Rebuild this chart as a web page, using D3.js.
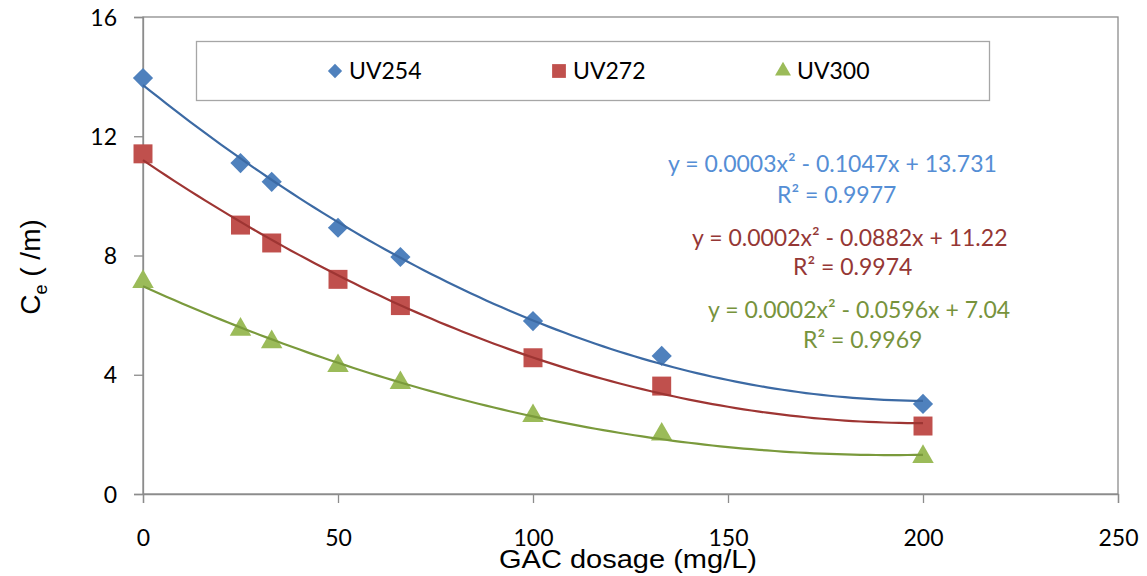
<!DOCTYPE html>
<html>
<head>
<meta charset="utf-8">
<title>GAC dosage vs Ce</title>
<script src="https://cdn.jsdelivr.net/npm/d3@7"></script>
<style>
  body { margin: 0; background: #fff; }
  svg { display: block; }
</style>
</head>
<body>
<div id="chart"></div>
<script>
// data
var dosage = [0, 25, 33, 50, 66, 100, 133, 200];
var uv254 = [13.95, 11.1, 10.47, 8.93, 7.95, 5.8, 4.63, 3.02];
var uv272 = [11.41, 9.02, 8.42, 7.2, 6.32, 4.57, 3.62, 2.28];
var uv300 = [7.12, 5.52, 5.1, 4.3, 3.73, 2.62, 2.0, 1.25];
var seriesNames = ["UV254", "UV272", "UV300"];
var equations = [
  ["y = 0.0003x\u00b2 - 0.1047x + 13.731", "R\u00b2 = 0.9977"],
  ["y = 0.0002x\u00b2 - 0.0882x + 11.22", "R\u00b2 = 0.9974"],
  ["y = 0.0002x\u00b2 - 0.0596x + 7.04", "R\u00b2 = 0.9969"]
];
var xTicks = [0, 50, 100, 150, 200, 250];
var yTicks = [0, 4, 8, 12, 16];

var W = 1147, H = 576;
var plot = {left: 143, right: 1118, top: 17, bottom: 494};

var markerColors = ["#4F81BD", "#C0504D", "#9BBB59"];
var lineColors = ["#3C6AA4", "#9E3533", "#7A9A3C"];
var textColors = ["#558ED5", "#953735", "#77933C"];
var symbols = [d3.symbolDiamond2, d3.symbolSquare, d3.symbolTriangle];
var calibri = "Lato, 'Open Sans', sans-serif";
var arial = "'Liberation Sans', Arial, sans-serif";

var svg = d3.select("#chart").append("svg")
  .attr("width", W).attr("height", H);

var x = d3.scaleLinear().domain([0, 250]).range([plot.left, plot.right]);
var y = d3.scaleLinear().domain([0, 16]).range([plot.bottom, plot.top]);

// plot frame
svg.append("rect")
  .attr("x", plot.left).attr("y", plot.top)
  .attr("width", plot.right - plot.left).attr("height", plot.bottom - plot.top)
  .attr("fill", "none").attr("stroke", "#8c8c8c").attr("stroke-width", 1.3);

var xAxis = svg.append("g")
  .attr("transform", "translate(0," + plot.bottom + ")")
  .call(d3.axisBottom(x).tickValues(xTicks).tickSize(9).tickPadding(27));
var yAxis = svg.append("g")
  .attr("transform", "translate(" + plot.left + ",0)")
  .call(d3.axisLeft(y).tickValues(yTicks).tickSize(9).tickPadding(17));
[xAxis, yAxis].forEach(function(a) {
  a.select(".domain").attr("stroke", "#8c8c8c").attr("stroke-width", 1.3);
  a.selectAll(".tick line").attr("stroke", "#8c8c8c").attr("stroke-width", 1.3);
  a.selectAll(".tick text")
    .attr("fill", "#000")
    .style("font-family", calibri)
    .style("font-size", "23px");
});
yAxis.selectAll(".tick text").attr("dy", "0.35em");

// quadratic least squares, same as the spreadsheet trendline
function quadFit(xs, ys) {
  var s = [0, 0, 0, 0, 0], t = [0, 0, 0];
  xs.forEach(function(xv, i) {
    for (var k = 0; k < 5; k++) s[k] += Math.pow(xv, k);
    for (var k2 = 0; k2 < 3; k2++) t[k2] += Math.pow(xv, k2) * ys[i];
  });
  var A = [[s[0], s[1], s[2], t[0]], [s[1], s[2], s[3], t[1]], [s[2], s[3], s[4], t[2]]];
  for (var c = 0; c < 3; c++) {
    for (var r = c + 1; r < 3; r++) {
      var f = A[r][c] / A[c][c];
      for (var j = c; j < 4; j++) A[r][j] -= f * A[c][j];
    }
  }
  var coef = [0, 0, 0];
  for (var r2 = 2; r2 >= 0; r2--) {
    var v = A[r2][3];
    for (var j2 = r2 + 1; j2 < 3; j2++) v -= A[r2][j2] * coef[j2];
    coef[r2] = v / A[r2][r2];
  }
  return function(xv) { return coef[0] + coef[1] * xv + coef[2] * xv * xv; };
}

var allSeries = [uv254, uv272, uv300];
var line = d3.line().x(function(d) { return x(d[0]); }).y(function(d) { return y(d[1]); });
var xs = d3.range(0, 200.5, 2);

allSeries.forEach(function(vals, i) {
  var fit = quadFit(dosage, vals);
  var pts = dosage.map(function(d, j) { return [d, vals[j]]; });
  var g = svg.append("g");
  g.selectAll("path.mk").data(pts).enter().append("path")
    .attr("class", "mk")
    .attr("transform", function(d) { return "translate(" + x(d[0]) + "," + y(d[1]) + ")"; })
    .attr("d", d3.symbol().type(symbols[i]).size(i == 2 ? 200 : (i == 0 ? 260 : 360)))
    .attr("fill", markerColors[i]);
  g.append("path")
    .datum(xs.map(function(v) { return [v, fit(v)]; }))
    .attr("d", line)
    .attr("fill", "none")
    .attr("stroke", lineColors[i])
    .attr("stroke-width", 2.2);
});

// legend
svg.append("rect")
  .attr("x", 196.5).attr("y", 41.5).attr("width", 793).attr("height", 59)
  .attr("fill", "#fff").attr("stroke", "#a6a6a6").attr("stroke-width", 1.3);
var legX = [335, 559, 783];
seriesNames.forEach(function(name, i) {
  svg.append("path")
    .attr("transform", "translate(" + legX[i] + ",71)")
    .attr("d", d3.symbol().type(symbols[i]).size(i == 2 ? 110 : (i == 0 ? 130 : 190)))
    .attr("fill", markerColors[i]);
  svg.append("text")
    .attr("x", legX[i] + 14).attr("y", 79)
    .style("font-family", calibri).style("font-size", "23px")
    .text(name);
});

// trendline labels
var eqPos = [[668, 172, 777, 203], [692, 246, 793, 275], [708, 318, 803, 348]];
equations.forEach(function(eq, i) {
  svg.append("text")
    .attr("x", eqPos[i][0]).attr("y", eqPos[i][1])
    .attr("fill", textColors[i])
    .style("font-family", calibri).style("font-size", "23px")
    .text(eq[0]);
  svg.append("text")
    .attr("x", eqPos[i][2]).attr("y", eqPos[i][3])
    .attr("fill", textColors[i])
    .style("font-family", calibri).style("font-size", "23px")
    .text(eq[1]);
});

// axis titles
svg.append("text")
  .attr("x", 628).attr("y", 568)
  .attr("text-anchor", "middle")
  .style("font-family", arial).style("font-size", "25px")
  .attr("textLength", 258).attr("lengthAdjust", "spacingAndGlyphs")
  .text("GAC dosage (mg/L)");
var yt = svg.append("text")
  .attr("transform", "translate(40,267) rotate(-90)")
  .attr("text-anchor", "middle")
  .style("font-family", arial).style("font-size", "28px");
yt.append("tspan").text("C");
yt.append("tspan").attr("dy", 7).style("font-size", "18px").text("e");
yt.append("tspan").attr("dy", -7).text(" ( /m)");
</script>
</body>
</html>
